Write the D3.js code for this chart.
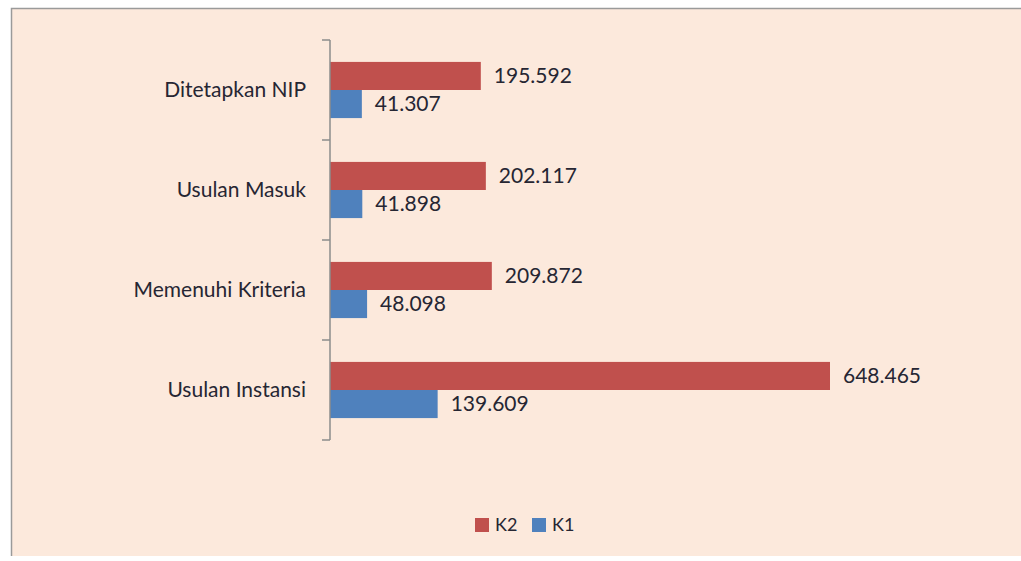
<!DOCTYPE html>
<html>
<head>
<meta charset="utf-8">
<script src="https://cdn.jsdelivr.net/npm/d3@7"></script>
<style>
  body { margin: 0; background: #ffffff; }
  svg text { font-family: Lato, "Open Sans", sans-serif; fill: #262633; }
</style>
</head>
<body>
<svg id="chart" width="1021" height="561"></svg>
<script>
// categories top to bottom, as drawn
var categories = ["Ditetapkan NIP", "Usulan Masuk", "Memenuhi Kriteria", "Usulan Instansi"];
var seriesNames = ["K2", "K1"];
var k2Values = [195.592, 202.117, 209.872, 648.465];
var k1Values = [41.307, 41.898, 48.098, 139.609];
var colors = { K2: "#c0504d", K1: "#4f81bd" };

var svg = d3.select("#chart");

svg.append("rect")
  .attr("x", 11).attr("y", 8)
  .attr("width", 1010).attr("height", 548)
  .attr("fill", "#fce9dc");
svg.append("path")
  .attr("d", "M11.5,556V8.5H1021")
  .attr("fill", "none")
  .attr("stroke", "#9a9a9a")
  .attr("stroke-width", 1.5);

var axisX = 330;
var y = d3.scaleBand()
  .domain(categories)
  .range([40, 440]);

var inner = d3.scaleBand()
  .domain(seriesNames)
  .range([0, y.bandwidth()])
  .paddingInner(0)
  .paddingOuter(0.78);

var x = d3.scaleLinear()
  .domain([0, 648.465])
  .range([axisX, 830]);

var rows = categories.map(function (c, i) {
  return { cat: c, K2: k2Values[i], K1: k1Values[i] };
});

var groups = svg.selectAll(".grp")
  .data(rows)
  .enter()
  .append("g")
  .attr("class", "grp")
  .attr("transform", function (d) { return "translate(0," + y(d.cat) + ")"; });

groups.selectAll("rect")
  .data(function (d) { return seriesNames.map(function (s) { return { s: s, v: d[s] }; }); })
  .enter()
  .append("rect")
  .attr("x", x(0))
  .attr("y", function (d) { return inner(d.s); })
  .attr("width", function (d) { return x(d.v) - x(0); })
  .attr("height", inner.bandwidth())
  .attr("fill", function (d) { return colors[d.s]; });

groups.selectAll(".val")
  .data(function (d) { return seriesNames.map(function (s) { return { s: s, v: d[s] }; }); })
  .enter()
  .append("text")
  .attr("class", "val")
  .attr("x", function (d) { return x(d.v) + 13; })
  .attr("y", function (d) { return inner(d.s) + inner.bandwidth() / 2; })
  .attr("dy", "0.35em")
  .style("font-size", "21px")
  .text(function (d) { return d3.format(".3f")(d.v); });

// category axis
var axis = svg.append("g")
  .attr("transform", "translate(" + axisX + ",0)")
  .call(d3.axisLeft(y).tickSize(0).tickPadding(24));
axis.select(".domain").remove();
axis.selectAll("text")
  .style("font-size", "21px")
  .attr("fill", null);

var tickYs = [40].concat(categories.map(function (c) { return y(c) + y.bandwidth(); }));
svg.append("line")
  .attr("x1", axisX).attr("x2", axisX)
  .attr("y1", 40).attr("y2", 440)
  .attr("stroke", "#8c8c8c").attr("stroke-width", 1.5);
svg.selectAll(".tk")
  .data(tickYs)
  .enter()
  .append("line")
  .attr("x1", axisX - 8).attr("x2", axisX)
  .attr("y1", function (d) { return d; })
  .attr("y2", function (d) { return d; })
  .attr("stroke", "#8c8c8c").attr("stroke-width", 1.5);

// legend
var legend = svg.append("g").attr("transform", "translate(475,525)");
var li = legend.selectAll("g")
  .data(seriesNames)
  .enter()
  .append("g")
  .attr("transform", function (d, i) { return "translate(" + (i * 57) + ",0)"; });
li.append("rect")
  .attr("x", 0).attr("y", -7)
  .attr("width", 14).attr("height", 14)
  .attr("fill", function (d) { return colors[d]; });
li.append("text")
  .attr("x", 20).attr("dy", "0.35em")
  .style("font-size", "18px")
  .text(function (d) { return d; });
</script>
</body>
</html>
